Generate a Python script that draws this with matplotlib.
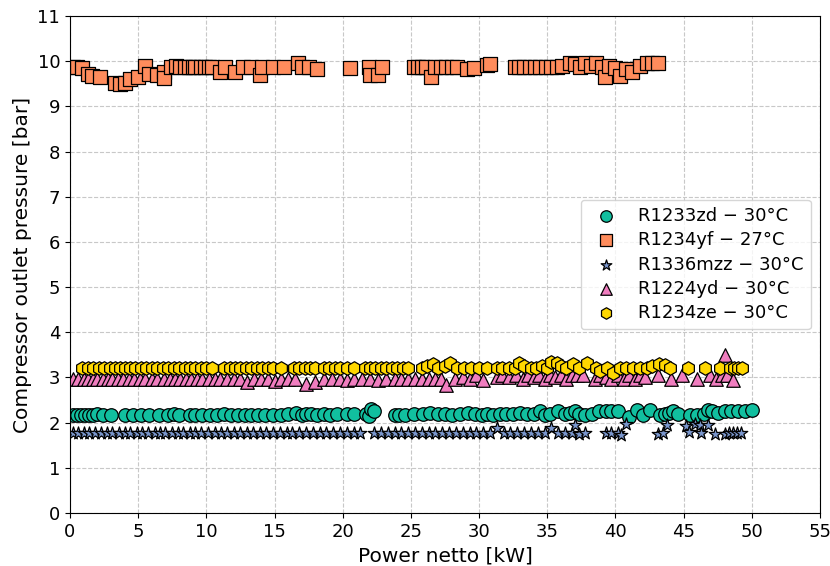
import matplotlib
matplotlib.use("Agg")
import matplotlib.pyplot as plt

# R1233zd - 30°C
zd_x = [0.2, 0.5, 0.8, 1.1, 1.4, 1.7, 2.0, 2.4, 3.0, 4.0,
        4.6, 5.2, 5.8, 6.5, 7.2, 7.6, 8.0, 8.8, 9.2, 9.7,
        10.3, 10.8, 11.3, 11.8, 12.3, 12.8, 13.3, 13.8, 14.3, 14.9,
        15.5, 16.0, 16.6, 17.0, 17.3, 17.7, 18.1, 18.6, 19.1, 19.6,
        20.3, 20.8, 21.7, 21.9, 22.1, 22.3, 23.8, 24.1, 24.6, 25.2,
        25.9, 26.4, 27.0, 27.5, 28.0, 28.6, 29.2, 29.7, 30.2, 30.6,
        31.0, 31.5, 32.0, 32.5, 33.0, 33.5, 34.0, 34.5, 34.8, 35.2,
        35.8, 36.3, 36.7, 37.0, 37.3, 37.8, 38.3, 38.8, 39.3, 39.7,
        40.2, 41.0, 41.6, 42.0, 42.5, 43.3, 43.6, 43.9, 44.2, 44.6,
        45.5, 46.0, 46.5, 46.8, 47.1, 47.5, 48.0, 48.5, 49.0, 49.5,
        50.0]
zd_y = [2.18, 2.18, 2.18, 2.18, 2.18, 2.18, 2.2, 2.18, 2.18, 2.18,
        2.18, 2.18, 2.18, 2.18, 2.18, 2.2, 2.18, 2.18, 2.18, 2.18,
        2.18, 2.18, 2.2, 2.18, 2.18, 2.18, 2.18, 2.18, 2.18, 2.18,
        2.18, 2.2, 2.22, 2.18, 2.2, 2.2, 2.18, 2.2, 2.18, 2.2,
        2.2, 2.2, 2.2, 2.15, 2.3, 2.25, 2.18, 2.18, 2.18, 2.2,
        2.2, 2.22, 2.2, 2.2, 2.18, 2.2, 2.22, 2.2, 2.18, 2.2,
        2.18, 2.2, 2.2, 2.2, 2.22, 2.2, 2.2, 2.25, 2.18, 2.2,
        2.25, 2.2, 2.22, 2.25, 2.2, 2.18, 2.2, 2.25, 2.25, 2.25,
        2.25, 2.12, 2.28, 2.18, 2.28, 2.18, 2.2, 2.22, 2.25, 2.2,
        2.18, 2.18, 2.2, 2.28, 2.25, 2.22, 2.25, 2.25, 2.25, 2.25,
        2.28]

# R1234yf - 27°C
yf_x = [0.2, 0.5, 0.9, 1.3, 1.6, 2.2, 3.3, 3.7, 4.0, 4.4,
        5.0, 5.5, 5.8, 6.4, 6.9, 6.9, 7.4, 7.8, 8.1, 8.4,
        8.7, 9.0, 9.2, 9.6, 9.9, 10.2, 10.4, 11.0, 11.4, 12.1,
        12.7, 13.3, 13.9, 14.1, 14.9, 15.7, 16.7, 17.0, 17.5, 18.1,
        20.5, 21.9, 22.0, 22.6, 22.9, 25.2, 25.5, 25.8, 26.1, 26.5,
        26.8, 27.2, 27.6, 28.0, 28.4, 29.1, 29.6, 30.6, 30.8, 32.6,
        32.9, 33.3, 33.7, 34.1, 34.5, 34.9, 35.3, 35.7, 36.1, 36.7,
        37.0, 37.4, 37.8, 38.2, 38.6, 39.0, 39.2, 39.5, 40.0, 40.3,
        40.8, 41.2, 41.8, 42.3, 42.7, 43.1]
yf_y = [9.88, 9.88, 9.85, 9.72, 9.68, 9.66, 9.52, 9.5, 9.52, 9.6,
        9.66, 9.9, 9.72, 9.7, 9.76, 9.62, 9.88, 9.9, 9.88, 9.88,
        9.88, 9.88, 9.88, 9.88, 9.88, 9.88, 9.88, 9.75, 9.88, 9.75,
        9.88, 9.88, 9.7, 9.88, 9.88, 9.88, 9.97, 9.88, 9.88, 9.82,
        9.85, 9.87, 9.7, 9.7, 9.87, 9.88, 9.88, 9.88, 9.88, 9.66,
        9.88, 9.88, 9.88, 9.88, 9.88, 9.82, 9.85, 9.92, 9.93, 9.88,
        9.88, 9.88, 9.88, 9.88, 9.88, 9.88, 9.88, 9.88, 9.9, 9.95,
        9.93, 9.88, 9.95, 9.9, 9.95, 9.88, 9.65, 9.9, 9.85, 9.68,
        9.82, 9.75, 9.9, 9.95, 9.95, 9.95]

# R1336mzz - 30°C
mzz_x = [0.2, 0.6, 1.0, 1.4, 1.8, 2.3, 2.7, 3.1, 3.6, 4.0,
         4.4, 4.9, 5.3, 5.7, 6.2, 6.6, 7.0, 7.5, 7.9, 8.3,
         8.8, 9.2, 9.6, 10.1, 10.6, 11.1, 11.5, 12.0, 12.5, 13.0,
         13.4, 13.9, 14.4, 14.9, 15.4, 15.9, 16.3, 16.8, 17.3, 17.8,
         18.3, 18.8, 19.3, 19.8, 20.3, 20.8, 21.3, 22.3, 22.8, 23.3,
         23.8, 24.3, 24.8, 25.3, 25.8, 26.3, 26.8, 27.3, 27.8, 28.3,
         28.8, 29.3, 29.8, 30.3, 30.8, 31.3, 31.8, 32.3, 32.8, 33.3,
         33.8, 34.3, 34.8, 35.3, 35.8, 36.3, 36.8, 37.0, 37.3, 37.8,
         39.3, 39.7, 40.2, 40.4, 40.8, 43.1, 43.5, 43.8, 45.2, 45.4,
         45.8, 46.2, 46.3, 46.8, 47.3, 48.0, 48.3, 48.6, 48.9, 49.2]
mzz_y = [1.78, 1.78, 1.77, 1.78, 1.78, 1.77, 1.78, 1.78, 1.77, 1.78,
         1.78, 1.77, 1.78, 1.78, 1.77, 1.78, 1.78, 1.77, 1.78, 1.78,
         1.78, 1.77, 1.78, 1.78, 1.77, 1.78, 1.78, 1.77, 1.78, 1.78,
         1.78, 1.77, 1.78, 1.78, 1.77, 1.78, 1.78, 1.77, 1.78, 1.78,
         1.78, 1.77, 1.78, 1.78, 1.77, 1.78, 1.78, 1.77, 1.78, 1.78,
         1.78, 1.77, 1.78, 1.78, 1.77, 1.78, 1.78, 1.77, 1.78, 1.78,
         1.78, 1.77, 1.78, 1.78, 1.77, 1.88, 1.78, 1.77, 1.78, 1.78,
         1.78, 1.77, 1.78, 1.88, 1.77, 1.78, 1.78, 1.95, 1.75, 1.78,
         1.78, 1.78, 1.77, 1.72, 1.98, 1.76, 1.78, 1.95, 1.92, 1.8,
         1.98, 1.95, 1.78, 1.95, 1.76, 1.76, 1.77, 1.77, 1.77, 1.77]

# R1224yd - 30°C
yd_x = [0.2, 0.6, 1.0, 1.3, 1.7, 2.0, 2.4, 2.8, 3.1, 3.5,
        3.9, 4.3, 4.7, 5.1, 5.5, 6.0, 6.4, 6.9, 7.3, 7.7,
        8.1, 8.5, 8.9, 9.3, 9.7, 10.2, 10.6, 11.0, 11.5, 12.0,
        12.5, 13.0, 13.5, 14.0, 14.5, 15.0, 15.5, 16.0, 16.5, 17.3,
        18.0, 18.6, 19.2, 19.8, 20.3, 20.8, 21.4, 22.0, 22.6, 23.2,
        23.8, 24.3, 24.8, 25.3, 25.8, 26.3, 26.8, 27.2, 27.6, 28.2,
        28.8, 29.3, 29.8, 30.3, 31.3, 31.7, 32.2, 32.7, 33.2, 33.6,
        34.0, 34.4, 34.8, 35.2, 35.6, 36.0, 36.4, 36.8, 37.2, 37.6,
        38.5, 38.9, 39.3, 39.7, 40.2, 40.6, 41.0, 41.4, 41.8, 42.2,
        43.1, 44.1, 44.9, 46.0, 46.9, 47.4, 47.8, 48.0, 48.2, 48.6]
yd_y = [2.97, 2.97, 2.97, 2.97, 2.97, 2.97, 2.97, 2.97, 2.97, 2.97,
        2.97, 2.97, 2.97, 2.97, 2.97, 2.97, 2.97, 2.97, 2.97, 2.97,
        2.97, 2.97, 2.97, 2.97, 2.97, 2.97, 2.97, 2.97, 2.97, 2.97,
        2.97, 2.9, 2.97, 2.97, 2.97, 2.92, 2.97, 2.97, 2.97, 2.85,
        2.9, 2.97, 2.97, 2.97, 2.95, 2.97, 2.97, 2.97, 2.95, 2.97,
        2.97, 2.97, 2.97, 2.97, 2.97, 2.97, 2.97, 2.97, 2.83, 2.97,
        3.0, 2.97, 3.05, 2.95, 3.0, 3.05, 3.0, 3.05, 2.97, 3.05,
        3.0, 3.05, 2.97, 3.05, 3.0, 3.05, 2.97, 3.05, 3.05, 3.05,
        2.97, 3.05, 3.0, 2.97, 3.05, 2.97, 3.05, 2.97, 3.05, 3.0,
        3.05, 2.97, 3.05, 2.97, 3.05, 2.97, 3.05, 3.5, 3.05, 2.95]

# R1234ze - 30°C
ze_x = [0.9, 1.3, 1.7, 2.1, 2.5, 2.9, 3.3, 3.7, 4.0, 4.4,
        4.8, 5.2, 5.6, 6.0, 6.4, 6.8, 7.2, 7.6, 8.0, 8.4,
        8.8, 9.2, 9.6, 10.0, 10.4, 11.3, 11.7, 12.1, 12.5, 12.9,
        13.3, 13.7, 14.1, 14.5, 14.9, 15.5, 16.4, 16.8, 17.2, 17.6,
        18.0, 18.6, 19.0, 19.4, 19.8, 20.3, 20.8, 21.6, 22.0, 22.4,
        22.8, 23.2, 23.6, 24.0, 24.4, 24.8, 25.8, 26.2, 26.6, 27.0,
        27.5, 27.9, 28.4, 28.9, 29.4, 30.0, 30.6, 31.3, 31.7, 32.2,
        32.6, 32.9, 33.3, 33.8, 34.2, 34.6, 35.0, 35.3, 35.7, 36.0,
        36.4, 36.9, 37.3, 37.9, 38.6, 38.9, 39.4, 39.8, 40.3, 40.8,
        41.3, 41.8, 42.3, 42.7, 43.2, 43.6, 44.0, 45.3, 46.6, 47.7,
        48.4, 48.7, 49.0, 49.3]
ze_y = [3.22, 3.22, 3.22, 3.22, 3.2, 3.22, 3.22, 3.2, 3.22, 3.22,
        3.22, 3.22, 3.22, 3.2, 3.22, 3.22, 3.22, 3.2, 3.22, 3.22,
        3.22, 3.22, 3.22, 3.22, 3.22, 3.22, 3.2, 3.22, 3.22, 3.22,
        3.22, 3.22, 3.22, 3.2, 3.22, 3.22, 3.22, 3.22, 3.22, 3.22,
        3.22, 3.22, 3.22, 3.22, 3.22, 3.22, 3.22, 3.22, 3.2, 3.22,
        3.22, 3.22, 3.22, 3.22, 3.22, 3.22, 3.22, 3.25, 3.3, 3.22,
        3.25, 3.33, 3.22, 3.22, 3.22, 3.22, 3.22, 3.22, 3.22, 3.22,
        3.22, 3.33, 3.25, 3.22, 3.22, 3.25, 3.22, 3.35, 3.33, 3.25,
        3.22, 3.3, 3.22, 3.33, 3.22, 3.15, 3.22, 3.1, 3.22, 3.22,
        3.22, 3.22, 3.22, 3.25, 3.3, 3.28, 3.22, 3.22, 3.22, 3.22,
        3.22, 3.22, 3.22, 3.22]

labels = ["R1233zd \u2212 30°C", "R1234yf \u2212 27°C", "R1336mzz \u2212 30°C",
          "R1224yd \u2212 30°C", "R1234ze \u2212 30°C"]
series = [(zd_x, zd_y), (yf_x, yf_y), (mzz_x, mzz_y), (yd_x, yd_y), (ze_x, ze_y)]
colors = ["#11bf9f", "#ff8c5c", "#7a96cc", "#f07dbf", "#ffd700"]
markers = ["o", "s", "*", "^", "h"]
sizes = [95, 110, 90, 95, 95]

fig = plt.figure(figsize=(8.3, 5.66), dpi=100)
ax = fig.add_axes([0.0843, 0.0936, 0.9037, 0.8781])

for (xs, ys), lab, c, m, s in zip(series, labels, colors, markers, sizes):
    ax.scatter(xs, ys, label=lab, color=c, marker=m, s=s,
               edgecolors="black", linewidths=0.9)

ax.set_xlim(0, 55)
ax.set_ylim(0, 11)
ax.set_xticks(range(0, 56, 5))
ax.set_yticks(range(0, 12, 1))
ax.tick_params(labelsize=13)
ax.set_xlabel("Power netto [kW]", fontsize=14.5)
ax.set_ylabel("Compressor outlet pressure [bar]", fontsize=14.5)
ax.set_axisbelow(True)
ax.grid(True, linestyle="--", color="#c8c8c8", linewidth=0.8)
ax.legend(loc="center right", fontsize=13, labelspacing=0.35,
          markerscale=0.85, borderaxespad=0.5)

fig.savefig("out.png", dpi=100)
